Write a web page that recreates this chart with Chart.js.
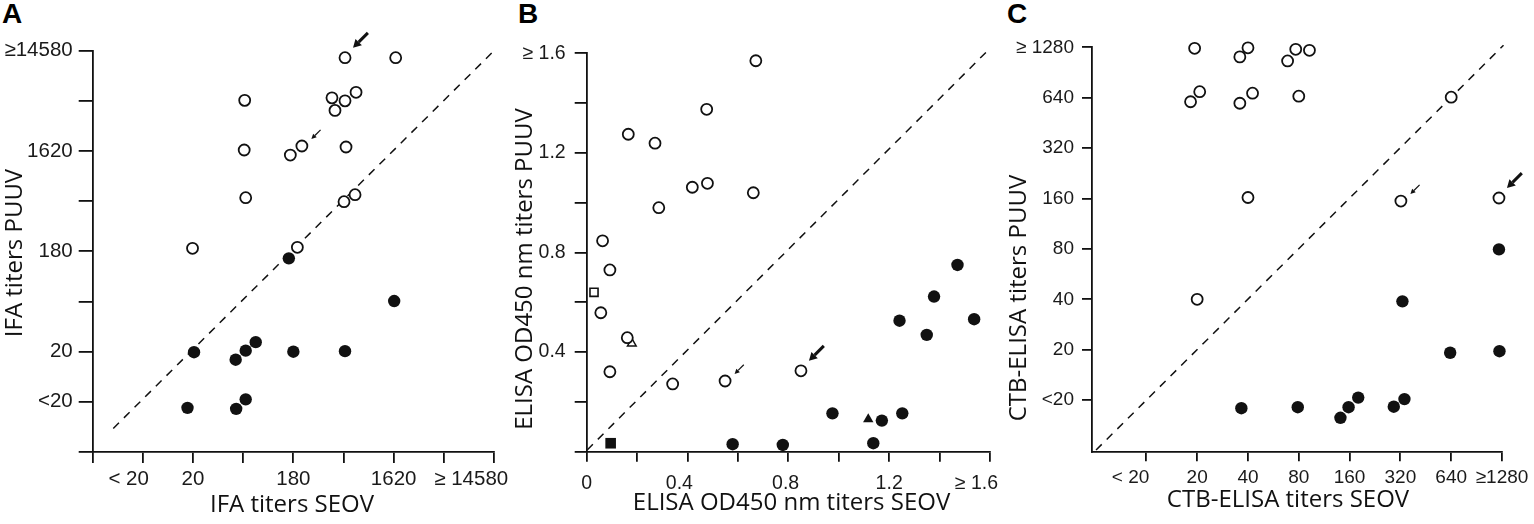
<!DOCTYPE html>
<html>
<head>
<meta charset="utf-8">
<script src="https://cdn.jsdelivr.net/npm/chart.js@4.4.1/dist/chart.umd.min.js"></script>
<style>
  html, body { margin: 0; padding: 0; background: #ffffff; }
  body { width: 1534px; height: 524px; position: relative; overflow: hidden; }
  canvas { position: absolute; top: 0; }
  .panel-letter { position: absolute; top: 0; font: bold 28px 'Liberation Sans', Arial, sans-serif; line-height: 28px; color: #000; }
</style>
</head>
<body>
<div class="panel-letter" style="left:2px">A</div>
<div class="panel-letter" style="left:518px">B</div>
<div class="panel-letter" style="left:1007px">C</div>
<canvas id="chartA" width="540" height="524" style="left:0px"></canvas>
<canvas id="chartB" width="530" height="524" style="left:500px"></canvas>
<canvas id="chartC" width="534" height="524" style="left:1000px"></canvas>
<script>
// ---------------- DATA ----------------
// Panel A: IFA titers (ordinal titer steps: 0 = origin, 1 = <20, 2 = 20, 3 = 60, 4 = 180, 5 = 540, 6 = 1620, 7 = 4860, 8 = >=14580)
const aTickValues = [0, 1, 2, 3, 4, 5, 6, 7, 8];
const aXLabels = ['', '< 20', '20', '', '180', '', '1620', '', '≥ 14580'];
const aYLabels = ['', '<20', '20', '', '180', '', '1620', '', '≥14580'];
const aOpenX   = [5.03, 6.04, 3.03, 4.77, 5.25, 5.03, 4.83, 3.02, 3.94, 4.17, 5.05, 3.05, 5.01, 5.23, 1.99, 4.08];
const aOpenY   = [7.86, 7.86, 7.01, 7.06, 7.17, 7.00, 6.81, 6.02, 5.92, 6.10, 6.08, 5.07, 4.99, 5.13, 4.06, 4.08];
const aFilledX = [3.91, 6.01, 2.02, 2.85, 3.05, 3.25, 4.00, 5.03, 1.89, 2.86, 3.05];
const aFilledY = [3.86, 3.01, 1.99, 1.84, 2.02, 2.19, 2.00, 2.01, 0.88, 0.86, 1.05];
const aDiagX = [0.41, 7.97];
const aDiagY = [0.47, 7.97];
const aXTitle = 'IFA titers SEOV';
const aYTitle = 'IFA titers PUUV';

// Panel B: ELISA OD450 values
const bTickValues = [0, 0.2, 0.4, 0.6, 0.8, 1.0, 1.2, 1.4, 1.6];
const bXLabels = ['0', '', '0.4', '', '0.8', '', '1.2', '', '≥ 1.6'];
const bYLabels = ['', '', '0.4', '', '0.8', '', '1.2', '', '≥ 1.6'];
const bOpenX   = [0.671, 0.476, 0.165, 0.271, 0.419, 0.479, 0.661, 0.286, 0.063, 0.092, 0.056, 0.161, 0.092, 0.341, 0.549, 0.850];
const bOpenY   = [1.570, 1.375, 1.275, 1.239, 1.062, 1.078, 1.040, 0.980, 0.847, 0.730, 0.558, 0.458, 0.321, 0.272, 0.284, 0.325];
const bFilledX = [1.471, 1.378, 1.241, 1.537, 1.349, 0.975, 1.252, 1.171, 0.579, 0.778, 1.137];
const bFilledY = [0.750, 0.623, 0.526, 0.532, 0.469, 0.154, 0.154, 0.125, 0.030, 0.027, 0.034];
const bOpenSquareX = [0.029];   const bOpenSquareY = [0.640];
const bOpenTriangleX = [0.179]; const bOpenTriangleY = [0.435];
const bFilledTriangleX = [1.117]; const bFilledTriangleY = [0.130];
const bFilledSquareX = [0.095]; const bFilledSquareY = [0.034];
const bDiagX = [0.002, 1.600];
const bDiagY = [0.007, 1.620];
const bXTitle = 'ELISA OD450 nm titers SEOV';
const bYTitle = 'ELISA OD450 nm titers PUUV';

// Panel C: CTB-ELISA titers (ordinal steps: 1 = <20, 2 = 20, 3 = 40, 4 = 80, 5 = 160, 6 = 320, 7 = 640, 8 = >=1280)
const cTickValues = [1, 2, 3, 4, 5, 6, 7, 8];
const cXLabels = ['< 20', '20', '40', '80', '160', '320', '640', '≥1280'];
const cYLabels = ['<20', '20', '40', '80', '160', '320', '640', '≥ 1280'];
const cOpenX   = [1.95, 3.00, 2.84, 3.94, 4.21, 3.78, 1.87, 2.05, 2.84, 3.09, 4.00, 7.00, 3.00, 6.01, 7.94, 2.00];
const cOpenY   = [7.98, 7.99, 7.81, 7.96, 7.94, 7.73, 6.92, 7.12, 6.89, 7.09, 7.03, 7.01, 5.02, 4.95, 5.01, 3.00];
const cFilledX = [7.94, 6.04, 6.98, 7.95, 2.87, 3.98, 4.82, 4.98, 5.17, 5.87, 6.08];
const cFilledY = [3.99, 2.96, 1.94, 1.97, 0.84, 0.86, 0.65, 0.86, 1.05, 0.87, 1.02];
const cDiagX = [0.01, 8.03];
const cDiagY = [0.01, 8.04];
const cXTitle = 'CTB-ELISA titers SEOV';
const cYTitle = 'CTB-ELISA titers PUUV';

// Arrow annotations: which open-circle point each arrow points at
const aArrows = [{ index: 0, kind: 'big' }, { index: 9, kind: 'small' }];
const bArrows = [{ index: 15, kind: 'big' }, { index: 14, kind: 'small' }];
const cArrows = [{ index: 14, kind: 'big' }, { index: 13, kind: 'small' }];

// ---------------- STYLE ----------------
const INK = '#111111';
const LABEL_INK = '#1a1a1a';
const AXIS_W = 1.8;
const TICK_FAMILY = "'Liberation Sans', Arial, sans-serif";
const TITLE_FONT = "24px 'Open Sans', 'Noto Sans', sans-serif";
const ARROW_STYLE = {
  big:   { dx: 8,   dy: -10, len: 21, width: 3,   head: 8, half: 4.5 },
  small: { dx: 9.5, dy: -7,  len: 13, width: 1.2, head: 5, half: 2.5 }
};

function zip(xs, ys) { return xs.map((x, i) => ({ x: x, y: ys[i] })); }

function openSet(xs, ys, style, radius, bw) {
  return { data: zip(xs, ys), pointStyle: style, pointRadius: radius, pointBorderWidth: bw,
           pointBackgroundColor: '#ffffff', pointBorderColor: INK, clip: false };
}
function filledSet(xs, ys, style, radius) {
  return { data: zip(xs, ys), pointStyle: style, pointRadius: radius, pointBorderWidth: 0,
           pointBackgroundColor: INK, pointBorderColor: INK, clip: false };
}
function diagSet(xs, ys) {
  return { data: zip(xs, ys), showLine: true, borderColor: INK, borderWidth: 1.5,
           borderDash: [8, 7], pointRadius: 0, clip: false };
}

function titlePlugin(items) {
  return {
    id: 'panelTitles',
    afterDraw(chart) {
      const ctx = chart.ctx;
      ctx.save();
      ctx.fillStyle = INK;
      ctx.font = TITLE_FONT;
      ctx.textAlign = 'center';
      ctx.textBaseline = 'middle';
      items.forEach(t => {
        ctx.save();
        ctx.translate(t.x, t.y);
        ctx.rotate(t.angle || 0);
        ctx.fillText(t.text, 0, 0);
        ctx.restore();
      });
      ctx.restore();
    }
  };
}

function arrowPlugin(list) {
  return {
    id: 'pointerArrows',
    afterDatasetsDraw(chart) {
      const ctx = chart.ctx;
      const u = Math.SQRT1_2;
      list.forEach(a => {
        const el = chart.getDatasetMeta(0).data[a.index];
        if (!el) return;
        const st = ARROW_STYLE[a.kind];
        const tipX = el.x + st.dx, tipY = el.y + st.dy;
        const tailX = tipX + st.len * u, tailY = tipY - st.len * u;
        const baseX = tipX + st.head * u, baseY = tipY - st.head * u;
        ctx.save();
        ctx.strokeStyle = INK; ctx.fillStyle = INK; ctx.lineWidth = st.width;
        ctx.beginPath(); ctx.moveTo(tailX, tailY); ctx.lineTo(baseX, baseY); ctx.stroke();
        ctx.beginPath();
        ctx.moveTo(tipX, tipY);
        ctx.lineTo(baseX + st.half * u, baseY + st.half * u);
        ctx.lineTo(baseX - st.half * u, baseY - st.half * u);
        ctx.closePath(); ctx.fill();
        ctx.restore();
      });
    }
  };
}

function axis(cfg) {
  return {
    type: 'linear',
    position: cfg.position,
    min: cfg.min,
    max: cfg.max,
    border: { display: true, color: INK, width: AXIS_W },
    grid: { display: true, drawOnChartArea: false, drawTicks: true, tickLength: cfg.tickLength,
            tickColor: INK, tickWidth: AXIS_W, color: INK, lineWidth: AXIS_W },
    ticks: {
      autoSkip: false, maxRotation: 0, minRotation: 0, padding: cfg.padding, color: LABEL_INK,
      font: { family: TICK_FAMILY, size: cfg.fontSize },
      callback: function (value, index) {
        const lbl = cfg.labels[index] || '';
        const n = (cfg.nudge && cfg.nudge[lbl]) || 0;
        return lbl + ' '.repeat(n);
      }
    },
    afterBuildTicks: function (scale) { scale.ticks = cfg.values.map(v => ({ value: v })); },
    afterFit: function (scale) {
      if (cfg.position === 'bottom') scale.height = cfg.size; else scale.width = cfg.size;
      scale.paddingLeft = 0; scale.paddingRight = 0; scale.paddingTop = 0; scale.paddingBottom = 0;
    }
  };
}

function makePanel(id, p) {
  return new Chart(document.getElementById(id), {
    type: 'scatter',
    data: { datasets: p.datasets },
    options: {
      responsive: false,
      animation: false,
      events: [],
      layout: { padding: { left: 0, top: p.padTop, right: p.padRight, bottom: 0 } },
      plugins: { legend: { display: false }, tooltip: { enabled: false } },
      scales: { x: axis(p.x), y: axis(p.y) }
    },
    plugins: [titlePlugin(p.titles), arrowPlugin(p.arrows)]
  });
}

// Panel A
makePanel('chartA', {
  datasets: [
    openSet(aOpenX, aOpenY, 'circle', 5.5, 1.8),
    filledSet(aFilledX, aFilledY, 'circle', 6.2),
    diagSet(aDiagX, aDiagY)
  ],
  padTop: 50.7, padRight: 46,
  x: { position: 'bottom', min: 0, max: 8, values: aTickValues, labels: aXLabels, tickLength: 11, padding: 4, fontSize: 20.5, size: 72,
       nudge: { '< 20': 5, '≥ 14580': 8 } },
  y: { position: 'left', min: 0, max: 8, values: aTickValues, labels: aYLabels, tickLength: 14, padding: 6, fontSize: 20.5, size: 92.7 },
  titles: [
    { text: aXTitle, x: 292, y: 505 },
    { text: aYTitle, x: 15, y: 253, angle: -Math.PI / 2 }
  ],
  arrows: aArrows
});

// Panel B
makePanel('chartB', {
  datasets: [
    openSet(bOpenX, bOpenY, 'circle', 5.5, 1.8),
    filledSet(bFilledX, bFilledY, 'circle', 6.2),
    openSet(bOpenSquareX, bOpenSquareY, 'rect', 5.7, 1.6),
    openSet(bOpenTriangleX, bOpenTriangleY, 'triangle', 5, 1.5),
    filledSet(bFilledTriangleX, bFilledTriangleY, 'triangle', 6),
    filledSet(bFilledSquareX, bFilledSquareY, 'rect', 7.5),
    diagSet(bDiagX, bDiagY)
  ],
  padTop: 53.3, padRight: 40,
  x: { position: 'bottom', min: 0, max: 1.6, values: bTickValues, labels: bXLabels, tickLength: 10, padding: 10, fontSize: 19.5, size: 72.3,
       nudge: { '≥ 1.6': 5, '0.4': 3, '0.8': 1 } },
  y: { position: 'left', min: 0, max: 1.6, values: bTickValues, labels: bYLabels, tickLength: 12, padding: 9, fontSize: 19.5, size: 86.7 },
  titles: [
    { text: bXTitle, x: 291.5, y: 503 },
    { text: bYTitle, x: 25, y: 269, angle: -Math.PI / 2 }
  ],
  arrows: bArrows
});

// Panel C
makePanel('chartC', {
  datasets: [
    openSet(cOpenX, cOpenY, 'circle', 5.5, 1.8),
    filledSet(cFilledX, cFilledY, 'circle', 6.2),
    diagSet(cDiagX, cDiagY)
  ],
  padTop: 47.3, padRight: 32,
  x: { position: 'bottom', min: -0.07, max: 8, values: cTickValues, labels: cXLabels, tickLength: 9, padding: 5, fontSize: 19, size: 71.7,
       nudge: { '< 20': 6 } },
  y: { position: 'left', min: -0.035, max: 8, values: cTickValues, labels: cYLabels, tickLength: 10, padding: 8, fontSize: 19, size: 92 },
  titles: [
    { text: cXTitle, x: 288, y: 500 },
    { text: cYTitle, x: 19, y: 298, angle: -Math.PI / 2 }
  ],
  arrows: cArrows
});
</script>
</body>
</html>
